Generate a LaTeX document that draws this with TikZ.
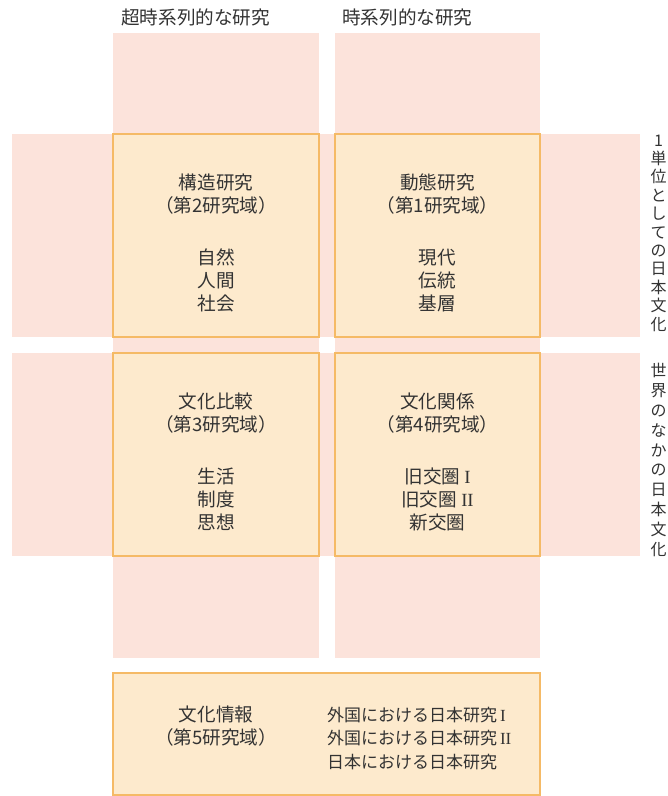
\documentclass[tikz,border=0pt]{standalone}
\usepackage{fontspec}
\setmainfont{Noto Sans CJK JP}
\newfontfamily\romfont{Liberation Serif}
\usepackage{tikz}
\usetikzlibrary{positioning}
\definecolor{bandpink}{HTML}{FCE3DB}
\definecolor{cellfill}{HTML}{FDEACD}
\definecolor{cellline}{HTML}{F5BA66}
\definecolor{ink}{HTML}{333333}
\tikzset{ band/.style = {rectangle, fill=bandpink, draw=none, inner sep=0pt, outer sep=0pt} }
\tikzset{ cell/.style = {rectangle, fill=cellfill, draw=cellline, line width=1.3pt, inner sep=0pt} }
\tikzset{ txt/.style = {text=ink, font=\fontsize{18.6}{23}\selectfont, align=center, inner sep=0pt} }
\tikzset{ vtxt/.style = {text=ink, font=\fontsize{16}{19.8}\selectfont, align=center, inner sep=0pt} }

\begin{document}
\begin{tikzpicture}[x=1pt,y=-1pt]
    \useasboundingbox (0,0) rectangle (668,796);
    % bands
    \node [band, minimum width=206pt, minimum height=625pt] (colL) at (216,345.5) {};
    \node [band, minimum width=205pt, minimum height=625pt] (colR) at (437.5,345.5) {};
    \node [band, minimum width=628pt, minimum height=203pt] (rowA) at (326,235.5) {};
    \node [band, minimum width=628pt, minimum height=203pt] (rowB) at (326,454.5) {};
    % cells
    \node [cell, minimum width=206pt, minimum height=203pt] (c2) at (216,235.5) {};
    \node [cell, minimum width=205pt, minimum height=203pt] (c1) at (437.5,235.5) {};
    \node [cell, minimum width=206pt, minimum height=203pt] (c3) at (216,454.5) {};
    \node [cell, minimum width=205pt, minimum height=203pt] (c4) at (437.5,454.5) {};
    \node [cell, minimum width=427pt, minimum height=122pt] (c5) at (326.5,734) {};
    % headers
    \node [txt, anchor=west] (hL) at (121,17) {超時系列的な研究};
    \node [txt, anchor=west] (hR) at (342,17) {時系列的な研究};
    \node [vtxt, font=\fontsize{16}{18.4}\selectfont] (vA) at (658.5,233) {1\\単\\位\\と\\し\\て\\の\\日\\本\\文\\化};
    \node [vtxt] (vB) at (658.5,460) {世\\界\\の\\な\\か\\の\\日\\本\\文\\化};
    % cell texts
    \node [txt] (t2) at (216,242.5) {構造研究\\（第2研究域）\\[29pt]自然\\人間\\社会};
    \node [txt] (t1) at (437.5,242.5) {動態研究\\（第1研究域）\\[29pt]現代\\伝統\\基層};
    \node [txt] (t3) at (216,461.5) {文化比較\\（第3研究域）\\[29pt]生活\\制度\\思想};
    \node [txt] (t4) at (437.5,461.5) {文化関係\\（第4研究域）\\[29pt]旧交圏 {\romfont I}\\旧交圏 {\romfont II}\\新交圏};
    \node [txt] (t5) at (216,726) {文化情報\\（第5研究域）};
    \node [txt, align=left, anchor=west, font=\fontsize{17}{23.5}\selectfont] (t5r) at (327,738.5)
        {外国における日本研究{\romfont\,I}\\外国における日本研究{\romfont\,II}\\日本における日本研究};
\end{tikzpicture}
\end{document}
